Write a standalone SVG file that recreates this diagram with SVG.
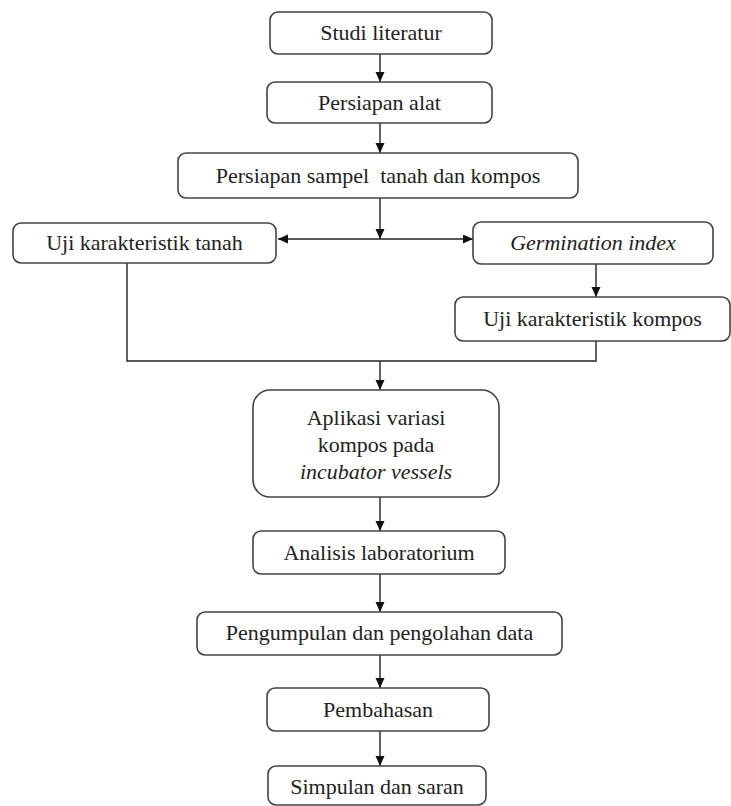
<svg xmlns="http://www.w3.org/2000/svg" width="731" height="806" viewBox="0 0 731 806">
<defs>
<marker id="ah" markerUnits="userSpaceOnUse" markerWidth="10" markerHeight="10" refX="10" refY="4.5" orient="auto">
<path d="M0,0 L10,4.5 L0,9 z" fill="#111"/>
</marker>
<style>
.box{fill:#fff;stroke:#444;stroke-width:1.6}
.t{font-family:"Liberation Serif","Times New Roman",serif;font-size:22px;fill:#222;text-anchor:middle}
.i{font-style:italic}
.c{fill:none;stroke:#222;stroke-width:1.4}
</style>
</defs>
<rect width="731" height="806" fill="#fff"/>
<g id="connectors">
<line class="c" x1="380" y1="54" x2="380" y2="82" marker-end="url(#ah)"/>
<line class="c" x1="380" y1="123" x2="380" y2="153" marker-end="url(#ah)"/>
<line class="c" x1="380" y1="198" x2="380" y2="239" marker-end="url(#ah)"/>
<line class="c" x1="380" y1="239" x2="278" y2="239" marker-end="url(#ah)"/>
<line class="c" x1="380" y1="239" x2="473" y2="239" marker-end="url(#ah)"/>
<line class="c" x1="596" y1="264" x2="596" y2="297" marker-end="url(#ah)"/>
<polyline class="c" points="127,263 127,361 596,361 596,341"/>
<line class="c" x1="380" y1="361" x2="380" y2="390" marker-end="url(#ah)"/>
<line class="c" x1="380" y1="497" x2="380" y2="531" marker-end="url(#ah)"/>
<line class="c" x1="380" y1="574" x2="380" y2="612" marker-end="url(#ah)"/>
<line class="c" x1="380" y1="655" x2="380" y2="688" marker-end="url(#ah)"/>
<line class="c" x1="380" y1="731" x2="380" y2="766" marker-end="url(#ah)"/>
</g>
<g id="studi">
<rect class="box" x="270" y="12" width="222" height="42" rx="8"/>
<text class="t" x="381" y="40">Studi literatur</text>
</g>
<g id="alat">
<rect class="box" x="267" y="82" width="225" height="41" rx="8"/>
<text class="t" x="379.5" y="110">Persiapan alat</text>
</g>
<g id="sampel">
<rect class="box" x="178" y="153" width="400" height="45" rx="8"/>
<text class="t" x="378" y="183" xml:space="preserve">Persiapan sampel  tanah dan kompos</text>
</g>
<g id="uji-tanah">
<rect class="box" x="13" y="223" width="263" height="40" rx="8"/>
<text class="t" x="144.5" y="250">Uji karakteristik tanah</text>
</g>
<g id="germination">
<rect class="box" x="473" y="222" width="240" height="42" rx="8"/>
<text class="t i" x="593" y="250">Germination index</text>
</g>
<g id="uji-kompos">
<rect class="box" x="455" y="297" width="275" height="44" rx="8"/>
<text class="t" x="592.5" y="326">Uji karakteristik kompos</text>
</g>
<g id="aplikasi">
<rect class="box" x="253" y="390" width="246" height="107" rx="17"/>
<text class="t" x="376" y="425">Aplikasi variasi</text>
<text class="t" x="376" y="452">kompos pada</text>
<text class="t i" x="376" y="479">incubator vessels</text>
</g>
<g id="analisis">
<rect class="box" x="253" y="531" width="252" height="43" rx="8"/>
<text class="t" x="379" y="560">Analisis laboratorium</text>
</g>
<g id="pengumpulan">
<rect class="box" x="197" y="612" width="365" height="43" rx="8"/>
<text class="t" x="379.5" y="640">Pengumpulan dan pengolahan data</text>
</g>
<g id="pembahasan">
<rect class="box" x="267" y="688" width="222" height="43" rx="8"/>
<text class="t" x="378" y="717">Pembahasan</text>
</g>
<g id="simpulan">
<rect class="box" x="268" y="766" width="218" height="39" rx="8"/>
<text class="t" x="377" y="794">Simpulan dan saran</text>
</g>
</svg>
